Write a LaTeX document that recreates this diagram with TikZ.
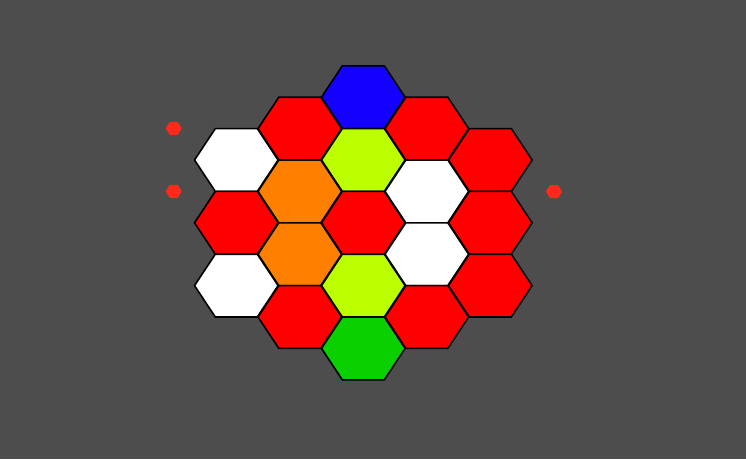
\documentclass[tikz,border=0pt]{standalone}
\usetikzlibrary{backgrounds}
\definecolor{bg}{HTML}{4D4D4D}
\definecolor{hred}{HTML}{FF0000}
\definecolor{hblue}{HTML}{1400FF}
\definecolor{hlime}{HTML}{BBFF00}
\definecolor{horange}{HTML}{FF8000}
\definecolor{hgreen}{HTML}{0AD000}
\definecolor{dotred}{HTML}{FF2A1A}
\tikzset{
  hexcell/.style={draw=black, line width=1.6pt, line join=miter},
}
\newcommand{\hexat}[3]{% x, y, color
  \filldraw[hexcell, fill=#3] (#1-41.8,#2) -- (#1-21,#2-31.4) -- (#1+21,#2-31.4) -- (#1+41.8,#2) -- (#1+21,#2+31.4) -- (#1-21,#2+31.4) -- cycle;}
\newcommand{\smallhex}[2]{%
  \fill[dotred] (#1-8,#2) -- (#1-4,#2-6.5) -- (#1+4,#2-6.5) -- (#1+8,#2) -- (#1+4,#2+6.5) -- (#1-4,#2+6.5) -- cycle;}
\begin{document}
\begin{tikzpicture}[x=1pt,y=-1pt]
\fill[bg] (0,0) rectangle (746,459);
\useasboundingbox (0,0) rectangle (746,459);
% column 0
\hexat{236.3}{160}{white}
\hexat{236.3}{222.8}{hred}
\hexat{236.3}{285.6}{white}
% column 1
\hexat{299.8}{128.6}{hred}
\hexat{299.8}{191.4}{horange}
\hexat{299.8}{254.2}{horange}
\hexat{299.8}{317}{hred}
% column 2
\hexat{363.3}{97.2}{hblue}
\hexat{363.3}{160}{hlime}
\hexat{363.3}{222.8}{hred}
\hexat{363.3}{285.6}{hlime}
\hexat{363.3}{348.4}{hgreen}
% column 3
\hexat{426.8}{128.6}{hred}
\hexat{426.8}{191.4}{white}
\hexat{426.8}{254.2}{white}
\hexat{426.8}{317}{hred}
% column 4
\hexat{490.3}{160}{hred}
\hexat{490.3}{222.8}{hred}
\hexat{490.3}{285.6}{hred}
% small markers
\smallhex{173.7}{128.3}
\smallhex{173.7}{191.3}
\smallhex{554}{191.6}
\end{tikzpicture}
\end{document}
